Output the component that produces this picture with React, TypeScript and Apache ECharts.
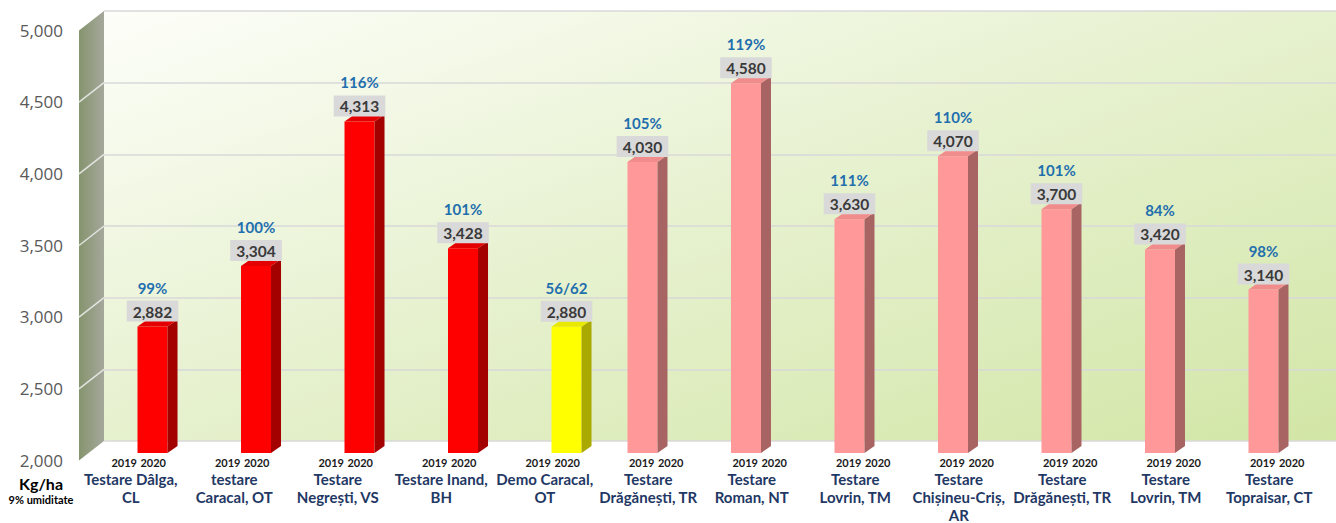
import React, { useEffect, useRef } from 'react';
import * as echarts from 'echarts';

const categories = [
  'Testare Dâlga,\nCL',
  'testare\nCaracal, OT',
  'Testare\nNegrești, VS',
  'Testare Inand,\nBH',
  'Demo Caracal,\nOT',
  'Testare\nDrăgănești, TR',
  'Testare\nRoman, NT',
  'Testare\nLovrin, TM',
  'Testare\nChișineu-Criș,\nAR',
  'Testare\nDrăgănești, TR',
  'Testare\nLovrin, TM',
  'Testare\nTopraisar, CT',
];
const years = ['2019', '2020'];
const values2019: (number | null)[] = [null, null, null, null, null, 4030, 4580, 3630, 4070, 3700, 3420, 3140];
const values2020: (number | null)[] = [2882, 3304, 4313, 3428, 2880, null, null, null, null, null, null, null];
const percentLabels = ['99%', '100%', '116%', '101%', '56/62', '105%', '119%', '111%', '110%', '101%', '84%', '98%'];
const demoCategory = 'Demo Caracal,\nOT';
const yMin = 2000;
const yMax = 5000;
const yInterval = 500;
const unitLabel = 'Kg/ha';
const unitNote = '9% umiditate';

const palette = {
  red: { front: '#FF0000', top: '#E40000', side: '#A30000' },
  yellow: { front: '#FFFF00', top: '#E8E800', side: '#A9A900' },
  pink: { front: '#FF9999', top: '#F08C8C', side: '#A86363' },
};

const FONT = 'Lato, "Open Sans", sans-serif';
const DEPTH_X = 10;
const DEPTH_Y = -7;
const WALL_DX = -25;
const WALL_DY = 19.5;

function fmt(v: number) {
  return v.toLocaleString('en-US');
}

function makeBarRender(yearIdx: number) {
  return (params: any, api: any) => {
    const idx = api.value(0);
    const v = api.value(1);
    const band = api.size([1, 0])[0];
    const pt = api.coord([idx, v]);
    const base = api.coord([idx, yMin])[1];
    const w = band * 0.29;
    const cx = pt[0] + (yearIdx === 0 ? -1 : 1) * band * 0.133;
    const top = pt[1];
    const cat = categories[idx];
    const col = yearIdx === 0 ? palette.pink : cat === demoCategory ? palette.yellow : palette.red;
    const l = cx - w / 2;
    const r = cx + w / 2;
    return {
      type: 'group',
      children: [
        { type: 'rect', shape: { x: l, y: top, width: w, height: base - top }, style: { fill: col.front } },
        {
          type: 'polygon',
          shape: { points: [[r, top], [r + DEPTH_X, top + DEPTH_Y], [r + DEPTH_X, base + DEPTH_Y], [r, base]] },
          style: { fill: col.side },
        },
        {
          type: 'polygon',
          shape: { points: [[l, top], [l + DEPTH_X, top + DEPTH_Y], [r + DEPTH_X, top + DEPTH_Y], [r, top]] },
          style: { fill: col.top },
        },
        {
          type: 'text',
          style: {
            text: fmt(v),
            x: cx,
            y: top - 5,
            align: 'center',
            verticalAlign: 'bottom',
            fill: '#3A3A3A',
            fontSize: 15.5,
            fontWeight: 'bold',
            fontFamily: FONT,
            backgroundColor: '#D9D9D9',
            padding: [3, 6, 2, 6],
          },
        },
        {
          type: 'text',
          style: {
            text: percentLabels[idx],
            x: cx,
            y: top - 39,
            align: 'center',
            verticalAlign: 'middle',
            fill: '#1F6FAE',
            fontSize: 15,
            fontWeight: 'bold',
            fontFamily: FONT,
          },
        },
      ],
    };
  };
}

function wallRender(params: any, api: any) {
  const pTop = api.coord([0, yMax]);
  const pBot = api.coord([0, yMin]);
  const children: any[] = [
    {
      type: 'polygon',
      shape: {
        points: [
          [pTop[0] + WALL_DX, pTop[1] + WALL_DY],
          [pTop[0], pTop[1]],
          [pBot[0], pBot[1]],
          [pBot[0] + WALL_DX, pBot[1] + WALL_DY],
        ],
      },
      style: {
        fill: new echarts.graphic.LinearGradient(0, 0, 1, 0, [
          { offset: 0, color: '#86946E' },
          { offset: 1, color: '#A4A89B' },
        ]),
      },
    },
  ];
  for (let t = yMin + yInterval; t < yMax; t += yInterval) {
    const p = api.coord([0, t]);
    children.push({
      type: 'line',
      shape: { x1: p[0] + WALL_DX, y1: p[1] + WALL_DY, x2: p[0], y2: p[1] },
      style: { stroke: 'rgba(240,240,240,0.85)', lineWidth: 1.5 },
    });
  }
  return { type: 'group', children };
}

export default function App() {
  const ref = useRef<HTMLDivElement>(null);
  useEffect(() => {
    if (!ref.current) return;
    const chart = echarts.init(ref.current, null, { renderer: 'svg' });
    const data2019 = values2019.map((v, i) => (v == null ? null : [i, v])).filter((d) => d) as number[][];
    const data2020 = values2020.map((v, i) => (v == null ? null : [i, v])).filter((d) => d) as number[][];
    chart.setOption({
      animation: false,
      backgroundColor: '#FFFFFF',
      grid: [
        { left: 87, width: 1242, top: 23, height: 430, outerBoundsMode: 'none', containLabel: false },
        { left: 79, width: 1242, top: 30, height: 430, outerBoundsMode: 'none', containLabel: false },
        {
          left: 104,
          right: 0,
          top: 11,
          height: 430,
          outerBoundsMode: 'none',
          containLabel: false,
          show: true,
          borderWidth: 0,
          backgroundColor: new echarts.graphic.LinearGradient(0, 0, 1, 1, [
            { offset: 0, color: '#FDFEF9' },
            { offset: 0.45, color: '#E8F2D2' },
            { offset: 1, color: '#D2E6A6' },
          ]),
        },
      ],
      xAxis: [
        {
          gridIndex: 0,
          type: 'category',
          data: categories,
          axisLine: { show: false },
          axisTick: { show: false },
          axisLabel: {
            interval: 0,
            margin: 4,
            formatter: () => `{a|${years[0]}}{a|${years[1]}}`,
            rich: {
              a: { width: 29, align: 'center', fontSize: 11, fontWeight: 'bold', color: '#1A1A1A', fontFamily: FONT },
            },
          },
        },
        {
          gridIndex: 1,
          type: 'category',
          data: categories,
          axisLine: { show: false },
          axisTick: { show: false },
          axisLabel: {
            interval: 0,
            margin: 10,
            fontSize: 15,
            lineHeight: 18,
            fontWeight: 'bold',
            color: '#1F3864',
            fontFamily: FONT,
          },
        },
        { gridIndex: 2, type: 'value', min: 0, max: 1, show: false },
      ],
      yAxis: [
        { gridIndex: 0, type: 'value', min: yMin, max: yMax, interval: yInterval, show: false },
        {
          gridIndex: 1,
          type: 'value',
          min: yMin,
          max: yMax,
          interval: yInterval,
          axisLine: { show: false },
          axisTick: { show: false },
          splitLine: { show: false },
          axisLabel: {
            margin: 16,
            fontSize: 17,
            color: '#595959',
            fontFamily: '"Open Sans", sans-serif',
            formatter: (v: number) => fmt(v),
          },
        },
        {
          gridIndex: 2,
          type: 'value',
          min: yMin,
          max: yMax,
          interval: yInterval,
          axisLine: { show: false },
          axisTick: { show: false },
          axisLabel: { show: false },
          splitLine: { show: true, lineStyle: { color: '#D9D9D9', width: 1.5 } },
        },
      ],
      graphic: [
        {
          type: 'text',
          x: 41,
          y: 483,
          style: { text: unitLabel, align: 'center', verticalAlign: 'middle', fontSize: 16, fontWeight: 'bold', fill: '#000', fontFamily: FONT },
        },
        {
          type: 'text',
          x: 41,
          y: 499,
          style: { text: unitNote, align: 'center', verticalAlign: 'middle', fontSize: 11, fontWeight: 'bold', fill: '#000', fontFamily: FONT },
        },
      ],
      series: [
        {
          type: 'custom',
          name: 'wall',
          xAxisIndex: 2,
          yAxisIndex: 2,
          clip: false,
          silent: true,
          z: 1,
          data: [[0, yMin]],
          renderItem: wallRender,
        },
        {
          type: 'custom',
          name: years[0],
          xAxisIndex: 0,
          yAxisIndex: 0,
          clip: false,
          z: 3,
          encode: { x: 0, y: 1 },
          data: data2019,
          renderItem: makeBarRender(0),
        },
        {
          type: 'custom',
          name: years[1],
          xAxisIndex: 0,
          yAxisIndex: 0,
          clip: false,
          z: 3,
          encode: { x: 0, y: 1 },
          data: data2020,
          renderItem: makeBarRender(1),
        },
      ],
    });
    return () => chart.dispose();
  }, []);
  return <div ref={ref} style={{ position: 'fixed', left: 0, top: 0, width: 1336, height: 523 }} />;
}
